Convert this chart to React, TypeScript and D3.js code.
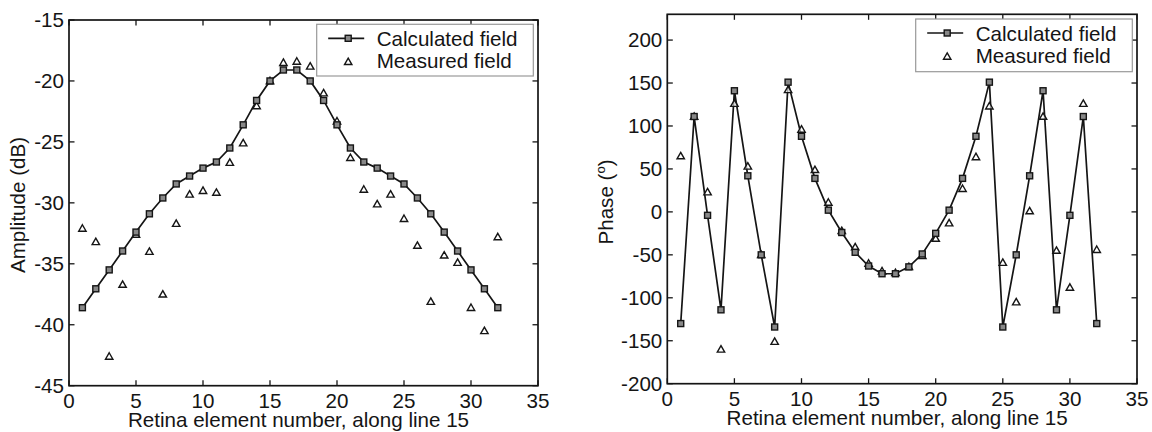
import React from "react";
import * as d3 from "d3";

const elements = d3.range(1, 33);

const ampCalculated = [
  -38.6, -37.05, -35.5, -33.95, -32.4, -30.9, -29.6, -28.45, -27.8, -27.15, -26.65, -25.5, -23.6, -21.6, -20.0, -19.1,
  -19.1, -20.0, -21.6, -23.6, -25.5, -26.65, -27.15, -27.8, -28.45, -29.6, -30.9, -32.4, -33.95, -35.5, -37.05, -38.6,
];
const ampMeasured = [
  -32.1, -33.2, -42.6, -36.7, -32.6, -34.0, -37.5, -31.7, -29.3, -29.0, -29.15, -26.7, -25.1, -22.05, -20.0, -18.5,
  -18.4, -18.8, -21.0, -23.3, -26.3, -28.9, -30.1, -29.3, -31.3, -33.5, -38.1, -34.3, -34.9, -38.6, -40.5, -32.8,
];

const phaseCalculated = [
  -130, 111, -4, -114, 141, 42, -50, -134, 151, 88, 39, 2, -24, -47, -63, -72,
  -72, -64, -49, -25, 2, 39, 88, 151, -134, -50, 42, 141, -114, -4, 111, -130,
];
const phaseMeasured = [
  65, 111, 23, -160, 126, 53, -50, -151, 142, 96, 49, 11, -22, -41, -60, -69,
  -71, -64, -51, -31, -13, 27, 64, 123, -59, -105, 1, 111, -45, -88, 126, -44,
];

const xTicks = [0, 5, 10, 15, 20, 25, 30, 35];
const ampTicks = [-45, -40, -35, -30, -25, -20, -15];
const phaseTicks = [-200, -150, -100, -50, 0, 50, 100, 150, 200];

const legendLabels = ["Calculated field", "Measured field"];
const xLabel = "Retina element number, along line 15";

const FONT = "'Liberation Sans', Arial, Helvetica, sans-serif";
const INK = "#151515";
const FS = 20.6;

type PanelProps = {
  x0: number; x1: number; yTop: number; yBottom: number;
  yDomain: [number, number]; yTicks: number[];
  calc: number[]; meas: number[];
  yLabel: React.ReactNode; yLabelX: number; yLabelY: number;
  legend: { x: number; y: number; w: number; h: number };
};

function Panel(p: PanelProps) {
  const xs = d3.scaleLinear().domain([0, 35]).range([p.x0, p.x1]);
  const ys = d3.scaleLinear().domain(p.yDomain).range([p.yBottom, p.yTop]);
  const line = d3.line<number>().x((_, i) => xs(elements[i])).y((d) => ys(d));
  const tick = 5.5;
  const tri = (cx: number, cy: number, s = 3.7) =>
    `M${cx},${cy - s} L${cx + s},${cy + s * 0.75} L${cx - s},${cy + s * 0.75} Z`;
  const sq = 3;
  const lg = p.legend;
  return (
    <g>
      <path d={line(p.calc) || ""} fill="none" stroke={INK} strokeWidth={1.7} />
      {p.meas.map((v, i) => (
        <path key={"m" + i} d={tri(xs(elements[i]), ys(v))} fill="#fff" fillOpacity={0.6} stroke={INK} strokeWidth={1.4} />
      ))}
      {p.calc.map((v, i) => (
        <rect key={"c" + i} x={xs(elements[i]) - sq} y={ys(v) - sq} width={sq * 2} height={sq * 2}
          fill="#888" stroke={INK} strokeWidth={1.4} />
      ))}
      <rect x={p.x0} y={p.yTop} width={p.x1 - p.x0} height={p.yBottom - p.yTop} fill="none" stroke={INK} strokeWidth={1.7} />
      {xTicks.map((t) => (
        <g key={"xt" + t}>
          <line x1={xs(t)} x2={xs(t)} y1={p.yBottom} y2={p.yBottom - tick} stroke={INK} strokeWidth={1.3} />
          <line x1={xs(t)} x2={xs(t)} y1={p.yTop} y2={p.yTop + tick} stroke={INK} strokeWidth={1.3} />
          <text x={xs(t)} y={p.yBottom + 22.5} textAnchor="middle" fontSize={FS} fontFamily={FONT} fill={INK}>{t}</text>
        </g>
      ))}
      {p.yTicks.map((t) => (
        <g key={"yt" + t}>
          <line x1={p.x0} x2={p.x0 + tick} y1={ys(t)} y2={ys(t)} stroke={INK} strokeWidth={1.3} />
          <line x1={p.x1} x2={p.x1 - tick} y1={ys(t)} y2={ys(t)} stroke={INK} strokeWidth={1.3} />
          <text x={p.x0 - 5} y={ys(t)} dy="0.36em" textAnchor="end" fontSize={FS} fontFamily={FONT} fill={INK}>{t}</text>
        </g>
      ))}
      <text x={(p.x0 + p.x1) / 2 - 5} y={p.yBottom + 41.5} textAnchor="middle" fontSize={FS} fontFamily={FONT} fill={INK}>{xLabel}</text>
      <text transform={`translate(${p.yLabelX},${p.yLabelY}) rotate(-90)`} textAnchor="middle" fontSize={FS} fontFamily={FONT} fill={INK}>{p.yLabel}</text>
      <rect x={lg.x} y={lg.y} width={lg.w} height={lg.h} fill="#fff" stroke="#999" strokeWidth={1.2} />
      <line x1={lg.x + 11.5} x2={lg.x + 47.5} y1={lg.y + 14} y2={lg.y + 14} stroke={INK} strokeWidth={1.7} />
      <rect x={lg.x + 31.5 - sq} y={lg.y + 14 - sq} width={sq * 2} height={sq * 2} fill="#888" stroke={INK} strokeWidth={1.4} />
      <path d={tri(lg.x + 31.5, lg.y + 37.5)} fill="#fff" stroke={INK} strokeWidth={1.4} />
      <text x={lg.x + 60} y={lg.y + 21.7} fontSize={FS} fontFamily={FONT} fill={INK}>{legendLabels[0]}</text>
      <text x={lg.x + 60} y={lg.y + 44} fontSize={FS} fontFamily={FONT} fill={INK}>{legendLabels[1]}</text>
    </g>
  );
}

export default function App() {
  return (
    <svg width={1152} height={432} style={{ position: "absolute", left: 0, top: 0, background: "#fff" }}>
      <rect width={1152} height={432} fill="#fff" />
      <Panel x0={69} x1={538} yTop={20} yBottom={385.7} yDomain={[-45, -15]} yTicks={ampTicks}
        calc={ampCalculated} meas={ampMeasured}
        yLabel="Amplitude (dB)" yLabelX={25} yLabelY={205}
        legend={{ x: 316.7, y: 24.3, w: 216.6, h: 51.7 }} />
      <Panel x0={667.3} x1={1137} yTop={14.3} yBottom={383.7} yDomain={[-200, 230]} yTicks={phaseTicks}
        calc={phaseCalculated} meas={phaseMeasured}
        yLabel={<>Phase (<tspan fontSize={13} dy={-8}>o</tspan><tspan dy={8}>)</tspan></>} yLabelX={613} yLabelY={202}
        legend={{ x: 915.7, y: 19, w: 216.6, h: 52.7 }} />
    </svg>
  );
}
